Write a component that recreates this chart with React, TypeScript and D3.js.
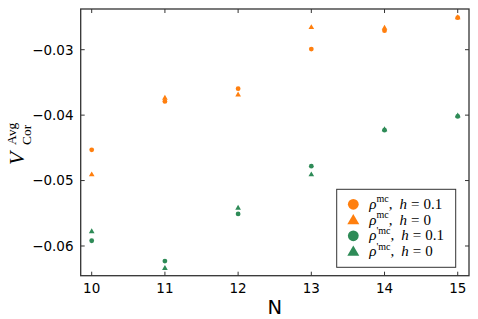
import React from "react";
import * as d3 from "d3";

const nValues = [10, 11, 12, 13, 14, 15];
const rhoMcH01 = [-0.0453, -0.0379, -0.03595, -0.0299, -0.0271, -0.0251];
const rhoMcH0 = [-0.0491, -0.0374, -0.0369, -0.0266, -0.0267, -0.0251];
const rhoPMcH01 = [-0.0592, -0.0623, -0.0551, -0.0478, -0.0423, -0.0402];
const rhoPMcH0 = [-0.0578, -0.0634, -0.0542, -0.0491, -0.0422, -0.0401];
const xTicks = [10, 11, 12, 13, 14, 15];
const yTicks = [-0.03, -0.04, -0.05, -0.06];

const ORANGE = "#ff7f0e";
const GREEN = "#2e8b57";
const AXIS = "#333333";

const series = [
  { values: rhoMcH01, color: ORANGE, shape: "circle", prime: false, h: "0.1" },
  { values: rhoMcH0, color: ORANGE, shape: "triangle", prime: false, h: "0" },
  { values: rhoPMcH01, color: GREEN, shape: "circle", prime: true, h: "0.1" },
  { values: rhoPMcH0, color: GREEN, shape: "triangle", prime: true, h: "0" },
];

const W = 478;
const H = 319;
const L = 80.7, R = 469, T = 9, B = 275.7;

export default function App() {
  const x = d3.scaleLinear().domain([9.8497, 15.154]).range([L, R]);
  const y = d3.scaleLinear().domain([-0.06454, -0.02378]).range([B, T]);
  const triSmall = d3.symbol().type(d3.symbolTriangle).size(14)();
  const triBig = d3.symbol().type(d3.symbolTriangle).size(62)();
  const fmt = (v: number) => v.toFixed(2).replace("-", "\u2212");
  const tickLen = 4;
  const legendRows = [204.3, 220, 235.8, 251.5];

  return (
    <svg
      width={W}
      height={H}
      style={{ position: "absolute", left: 0, top: 0, background: "#fff" }}
      fontFamily="DejaVu Sans"
    >
      <rect x={0} y={0} width={W} height={H} fill="#fff" />
      {series.map((s, si) =>
        s.values.map((v, i) =>
          s.shape === "circle" ? (
            <circle key={`${si}-${i}`} cx={x(nValues[i])} cy={y(v)} r={2.4} fill={s.color} />
          ) : (
            <path
              key={`${si}-${i}`}
              d={triSmall as string}
              transform={`translate(${x(nValues[i])},${y(v)})`}
              fill={s.color}
            />
          )
        )
      )}
      <rect x={L} y={T} width={R - L} height={B - T} fill="none" stroke={AXIS} strokeWidth={1.3} />
      {xTicks.map((t) => (
        <g key={`xt${t}`}>
          <line x1={x(t)} x2={x(t)} y1={B} y2={B - tickLen} stroke={AXIS} strokeWidth={1} />
          <line x1={x(t)} x2={x(t)} y1={T} y2={T + tickLen} stroke={AXIS} strokeWidth={1} />
          <text x={x(t)} y={292.7} fontSize={13.5} textAnchor="middle" fill="#000">
            {t}
          </text>
        </g>
      ))}
      {yTicks.map((t) => (
        <g key={`yt${t}`}>
          <line x1={L} x2={L + tickLen} y1={y(t)} y2={y(t)} stroke={AXIS} strokeWidth={1} />
          <line x1={R} x2={R - tickLen} y1={y(t)} y2={y(t)} stroke={AXIS} strokeWidth={1} />
          <text x={73.5} y={y(t)} dy="0.36em" fontSize={13.5} textAnchor="end" fill="#000">
            {fmt(t)}
          </text>
        </g>
      ))}
      <text x={(L + R) / 2} y={314} fontSize={19.5} textAnchor="middle" fill="#000">
        N
      </text>
      <g transform="translate(0,142) rotate(-90)" fontFamily="Liberation Serif" fill="#000">
        <text x={-23} y={23.5} fontSize={21.5} fontStyle="italic">V</text>
        <text x={-3} y={15.5} fontSize={13.5}>Avg</text>
        <text x={-3} y={30.5} fontSize={13.5}>Cor</text>
      </g>
      <rect x={336.7} y={189.3} width={119} height={78} fill="#fff" stroke={AXIS} strokeWidth={1} />
      {series.map((s, i) => (
        <g key={`lg${i}`}>
          {s.shape === "circle" ? (
            <circle cx={353.3} cy={legendRows[i]} r={5.4} fill={s.color} />
          ) : (
            <path d={triBig as string} transform={`translate(353.3,${legendRows[i] + 0.8})`} fill={s.color} />
          )}
          <text x={369.3} y={legendRows[i] + 4.5} fontFamily="Liberation Serif" fontSize={15} fill="#000">
            <tspan fontStyle="italic">ρ</tspan>
            <tspan fontSize={10} dy={-6.5}>{s.prime ? "'mc" : "mc"}</tspan>
            <tspan dy={6.5}>,</tspan>
            <tspan dx={7} fontStyle="italic">h</tspan>
            <tspan dx={4}>=</tspan>
            <tspan dx={4}>{s.h}</tspan>
          </text>
        </g>
      ))}
    </svg>
  );
}
